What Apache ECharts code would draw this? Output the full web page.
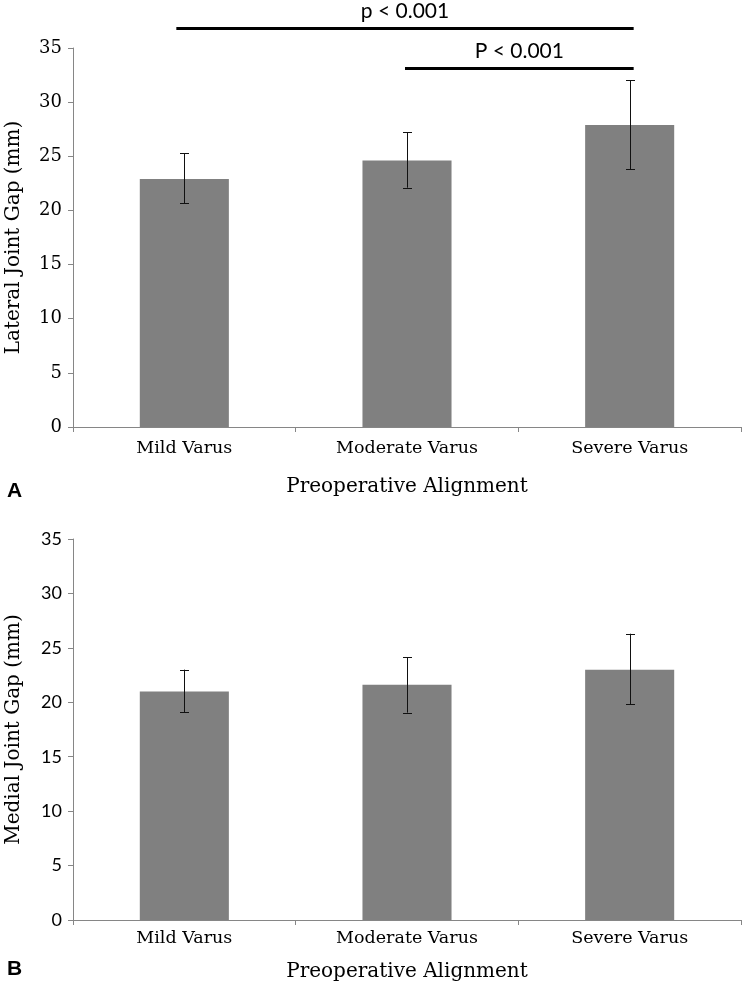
<!DOCTYPE html>
<html>
<head>
<meta charset="utf-8">
<script src="https://cdn.jsdelivr.net/npm/echarts@6/dist/echarts.min.js"></script>
<style>
html,body{margin:0;padding:0;background:#fff;}
#chart{width:742px;height:982px;}
</style>
</head>
<body>
<div id="chart"></div>
<script>
// ---- data ----
const categories = ['Mild Varus', 'Moderate Varus', 'Severe Varus'];
const lateralMean = [22.9, 24.6, 27.9];
const lateralLow  = [20.65, 22.1, 23.8];
const lateralHigh = [25.3, 27.2, 32.0];
const medialMean  = [21.0, 21.6, 23.0];
const medialLow   = [19.1, 19.05, 19.8];
const medialHigh  = [23.0, 24.15, 26.3];
const yMin = 0, yMax = 35, yStep = 5;
const sigText  = ['p < 0.001', 'P < 0.001'];
const sigFrom  = [0, 1];
const sigTo    = [2, 2];
const sigLevel = [36.8, 33.1];
const panelLabels = ['A', 'B'];
const xTitle = 'Preoperative Alignment';
const yTitles = ['Lateral Joint Gap (mm)', 'Medial Joint Gap (mm)'];

// ---- styles ----
const SERIF = '"DejaVu Serif", serif';
const SANS = 'Lato, "Open Sans", sans-serif';
const AXIS_COLOR = '#868686';
const BAR_COLOR = '#808080';

const chart = echarts.init(document.getElementById('chart'), null, {renderer: 'canvas'});

function errData(lo, hi) { return lo.map((v, i) => [i, v, hi[i]]); }

function errorRender(params, api) {
  const x = api.value(0);
  const lo = api.coord([x, api.value(1)]);
  const hi = api.coord([x, api.value(2)]);
  const cx = Math.round(lo[0]) + 0.5;
  const w = 4.5;
  const st = {stroke: '#111', lineWidth: 1};
  return {type: 'group', children: [
    {type: 'line', shape: {x1: cx, y1: lo[1], x2: cx, y2: hi[1]}, style: st},
    {type: 'line', shape: {x1: cx - w, y1: Math.round(lo[1]) + 0.5, x2: cx + w, y2: Math.round(lo[1]) + 0.5}, style: st},
    {type: 'line', shape: {x1: cx - w, y1: Math.round(hi[1]) + 0.5, x2: cx + w, y2: Math.round(hi[1]) + 0.5}, style: st}
  ]};
}

const sigPadL = [8, 2], sigPadR = [4, 4];
function sigRender(params, api) {
  const i = params.dataIndex;
  const a = api.coord([api.value(0), api.value(2)]);
  const b = api.coord([api.value(1), api.value(2)]);
  const x1 = a[0] - sigPadL[i], x2 = b[0] + sigPadR[i];
  return {type: 'group', children: [
    {type: 'line', shape: {x1: x1, y1: a[1], x2: x2, y2: a[1]}, style: {stroke: '#000', lineWidth: 3}},
    {type: 'text', x: (x1 + x2) / 2, y: a[1] - 7,
     style: {text: sigText[i], font: '21px ' + SANS, fill: '#000', align: 'center', verticalAlign: 'bottom'}}
  ]};
}

function xAxisCfg(gridIndex, labelMargin, nameGap) {
  return {
    type: 'category', gridIndex: gridIndex, data: categories,
    boundaryGap: true,
    axisLine: {lineStyle: {color: AXIS_COLOR, width: 1}},
    axisTick: {show: true, length: 5, inside: false, alignWithLabel: false, lineStyle: {color: AXIS_COLOR}},
    axisLabel: {color: '#000', fontFamily: SERIF, fontSize: 17.5, margin: labelMargin},
    name: xTitle, nameLocation: 'middle', nameGap: nameGap,
    nameTextStyle: {color: '#000', fontFamily: SERIF, fontSize: 20}
  };
}
function yAxisCfg(gridIndex, labelFont, labelSize, title) {
  return {
    type: 'value', gridIndex: gridIndex, min: yMin, max: yMax, interval: yStep,
    splitLine: {show: false},
    axisLine: {show: true, lineStyle: {color: AXIS_COLOR, width: 1}},
    axisTick: {show: true, length: 5, lineStyle: {color: AXIS_COLOR}},
    axisLabel: {color: '#000', fontFamily: labelFont, fontSize: labelSize, margin: 11},
    name: title, nameLocation: 'middle', nameGap: 49, nameRotate: 90,
    nameTextStyle: {color: '#000', fontFamily: SERIF, fontSize: 20}
  };
}

const option = {
  animation: false,
  backgroundColor: '#fff',
  grid: [
    {left: 73, right: 1, top: 48, height: 379, containLabel: false, outerBoundsMode: 'none'},
    {left: 73, right: 1, top: 539, height: 381, containLabel: false, outerBoundsMode: 'none'}
  ],
  xAxis: [xAxisCfg(0, 12, 50), xAxisCfg(1, 9, 42)],
  yAxis: [yAxisCfg(0, SERIF, 18, yTitles[0]), yAxisCfg(1, SANS, 18, yTitles[1])],
  graphic: [
    {type: 'text', left: 7, top: 481, style: {text: panelLabels[0], font: 'bold 21px "Liberation Sans", Arial, sans-serif', fill: '#000'}},
    {type: 'text', left: 7, top: 959, style: {text: panelLabels[1], font: 'bold 21px "Liberation Sans", Arial, sans-serif', fill: '#000'}}
  ],
  series: [
    {type: 'bar', xAxisIndex: 0, yAxisIndex: 0, data: lateralMean, barWidth: '40%',
     itemStyle: {color: BAR_COLOR}, silent: true},
    {type: 'custom', xAxisIndex: 0, yAxisIndex: 0, data: errData(lateralLow, lateralHigh),
     renderItem: errorRender, encode: {x: 0, y: [1, 2]}, z: 5, clip: false},
    {type: 'custom', xAxisIndex: 0, yAxisIndex: 0,
     data: sigFrom.map((f, i) => [f, sigTo[i], sigLevel[i]]),
     renderItem: sigRender, encode: {x: [0, 1], y: 2}, z: 6, clip: false},
    {type: 'bar', xAxisIndex: 1, yAxisIndex: 1, data: medialMean, barWidth: '40%',
     itemStyle: {color: BAR_COLOR}, silent: true},
    {type: 'custom', xAxisIndex: 1, yAxisIndex: 1, data: errData(medialLow, medialHigh),
     renderItem: errorRender, encode: {x: 0, y: [1, 2]}, z: 5, clip: false}
  ]
};
chart.setOption(option);
</script>
</body>
</html>
